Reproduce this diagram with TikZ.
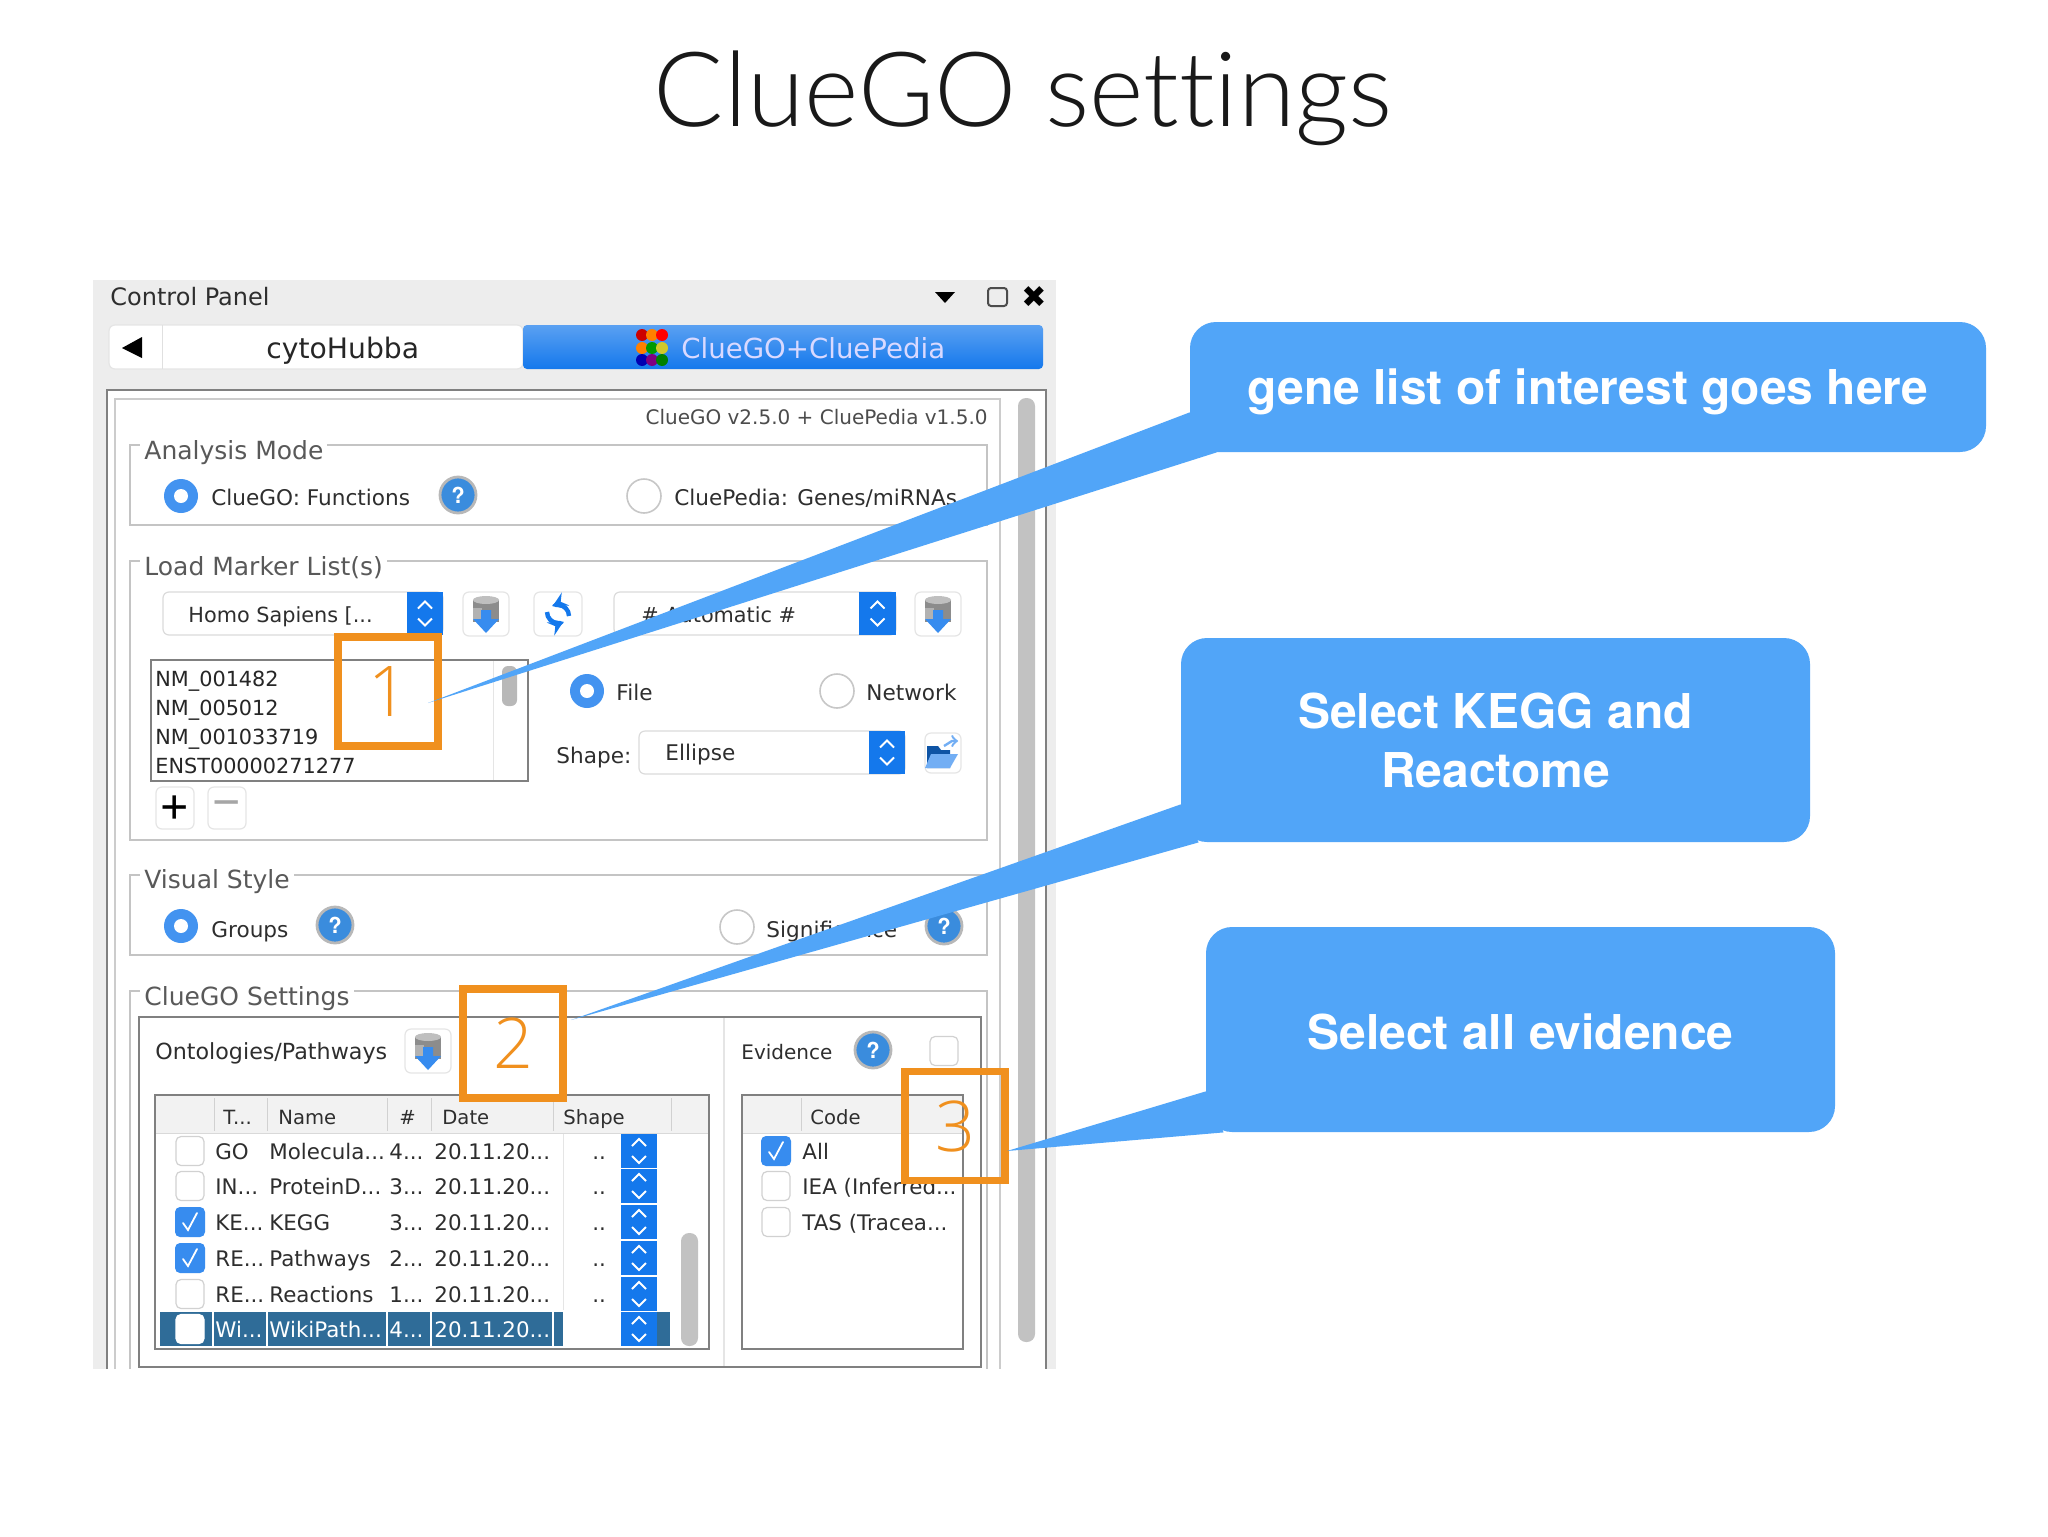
\documentclass[tikz,border=0pt]{standalone}
\usepackage{fontspec}
\setmainfont{TeX Gyre Heros}
\newfontfamily\uif{DejaVu Sans}
\newfontfamily\thinf[Ligatures={NoCommon,NoRequired,NoContextual}]{Lato Light}
\newfontfamily\digitf{Open Sans Light}
\usetikzlibrary{calc}
\definecolor{callblue}{HTML}{51A5F8}
\definecolor{orangebox}{HTML}{F0901E}
\definecolor{uitext}{HTML}{2E2E2E}
\definecolor{fieldline}{HTML}{C4C4C4}
\definecolor{spinblue}{HTML}{1478EC}
\definecolor{selrow}{HTML}{2F6C98}
\definecolor{helpblue}{HTML}{3A8CDD}
\def\dd{...}
\tikzset{
  uilab/.style={anchor=west,inner sep=0pt,text=uitext,text height=8pt,text depth=0pt,font=\uif\fontsize{10.8}{12}\selectfont},
  uilist/.style={uilab,font=\uif\fontsize{10.4}{12}\selectfont},
  uilabsm/.style={uilab,font=\uif\fontsize{10.7}{12}\selectfont},
  uihead/.style={uilab,font=\uif\fontsize{9.8}{12}\selectfont},
  legend/.style={uilab,fill=white,inner xsep=2pt,inner ysep=2pt,text height=9pt,font=\uif\fontsize{12.5}{14}\selectfont,text=black!65},
  calloutbox/.style={fill=callblue,rounded corners=13pt,text=white,align=center,inner sep=0pt,
    font=\bfseries\fontsize{24}{29.5}\selectfont},
  numbox/.style={draw=orangebox,line width=3.75pt,inner sep=0pt,text=orangebox,font=\digitf\fontsize{35}{35}\selectfont},
  field/.style={draw=fieldline,line width=1pt},
  btn/.style={draw=black!10,fill=white,rounded corners=3pt,line width=.6pt},
  check/.style={draw=black!18,fill=white,rounded corners=2.5pt,line width=.6pt,minimum width=14pt,minimum height=14.5pt,inner sep=0pt},
  checkon/.style={fill=spinblue!85,rounded corners=2.5pt,minimum width=15pt,minimum height=15pt,inner sep=0pt},
  tick/.style={draw=white,line width=.9pt,line cap=round},
  radio/.style={circle,inner sep=0pt,minimum size=17pt},
  helpic/.style={circle,draw=black!28,fill=helpblue,line width=1.4pt,inner sep=0pt,minimum size=18pt,
    text=white,font=\bfseries\fontsize{11}{11}\selectfont},
  combo/.style={btn,draw=black!14},
}
\newcommand\radioon[3]{\node[radio,fill=spinblue!80] (#1) at (#2,#3) {}; \fill[white] (#1) circle [radius=7];}
\newcommand\radiooff[3]{\node[radio,draw=black!22,line width=.8pt,fill=white] (#1) at (#2,#3) {};}
\newcommand\help[3]{\node[helpic] (#1) at (#2,#3) {?};}
\newcommand\spinner[5]{% name x1 y1 x2 y2
  \path[fill=spinblue] (#2,#3) rectangle (#4,#5);
  \coordinate (#1) at ($(#2,#3)!.5!(#4,#5)$);
  \draw[white,line width=1pt] ($(#1)+(-7,-5)$) -- ($(#1)+(0,-12)$) -- ($(#1)+(7,-5)$);
  \draw[white,line width=1pt] ($(#1)+(-7,5)$) -- ($(#1)+(0,12)$) -- ($(#1)+(7,5)$);}
\newcommand\dbicon[3]{%
  \node[btn,minimum width=23pt,minimum height=22pt,inner sep=0pt] (#1) at (#2,#3) {};
  \begin{scope}[shift={(#2,#3)}]
    \fill[black!45] (-13,-14) rectangle (13,8);
    \fill[black!25] (0,-14) ellipse [x radius=13,y radius=4];
    \fill[black!30] (-13,-6) rectangle (-4,6);
    \fill[spinblue!85] (-5,-4) -- (5,-4) -- (5,5) -- (13,5) -- (0,19) -- (-13,5) -- (-5,5) -- cycle;
  \end{scope}}
\newcommand\chk[3]{\node[check] (#1) at (#2,#3) {};}
\newcommand\chkon[3]{\node[checkon] (#1) at (#2,#3) {}; \draw[tick] ($(#1)+(-7,1)$) -- ($(#1)+(-2,8)$) -- ($(#1)+(7,-9)$);}
\begin{document}
\begin{tikzpicture}[x=0.5pt,y=-0.5pt]
\useasboundingbox[fill=white] (0,0) rectangle (2048,1536);
% title
\node[font=\thinf\fontsize{52}{52}\selectfont,text=black!90] (title) at (1023,98) {ClueGO settings};
% window
\fill[black!7] (93,280) rectangle (1056,1369);
\node[uilab,text height=8.8pt,font=\uif\fontsize{12}{14}\selectfont] (cp) at (110,297) {Control Panel};
\fill[black] (935,292) -- (955,292) -- (945,303) -- cycle;
\draw[black!70,line width=1pt,rounded corners=1.5pt] (988,288) rectangle (1007,306);
\node[font=\bfseries\fontsize{15}{15}\selectfont,inner sep=0pt] (closex) at (1034,297) {\uif✖};
% tabs
\node[btn,draw=black!10,minimum width=207pt,minimum height=22pt,inner sep=0pt] (tabwhite) at (316,347) {};
\draw[black!12] (162,325) -- (162,369);
\fill[black] (142,337) -- (142,358) -- (122,348) -- cycle;
\node[uilab,text height=10pt,font=\uif\fontsize{14.1}{16}\selectfont,text=black!85] (tab1) at (266,348) {cytoHubba};
\path[top color=spinblue!70,bottom color=spinblue,rounded corners=2pt] (523,325) rectangle (1043,369);
\foreach \cx/\cy/\cc in {642/335/red!80!black,652/335/orange,662/335/red,642/348/orange,652/348/green!60!black,662/348/yellow!80!black,642/360/blue!70!black,652/360/violet,662/360/green!50!black}
  \fill[\cc] (\cx,\cy) circle [radius=6];
\node[uilab,text height=10pt,font=\uif\fontsize{13.8}{16}\selectfont,text=white!85!blue] (tab2) at (681,348) {ClueGO+CluePedia};
% panel interior
\fill[white] (107,390) rectangle (1046,1369);
\draw[black!50,line width=1pt] (107,1369) -- (107,390) -- (1046,390) -- (1046,1369);
\draw[black!20,line width=.8pt] (115,1369) -- (115,399) -- (1000,399) -- (1000,1369);
\fill[black!24,rounded corners=4pt] (1018,398) rectangle (1035,1342);
\node[uihead,font=\uif\fontsize{10}{12}\selectfont,anchor=east,text=black!70] (ver) at (988,416) {ClueGO v2.5.0 + CluePedia v1.5.0};
% Analysis mode
\draw[field] (130,445) rectangle (987,525);
\node[legend] (am) at (140,450) {Analysis Mode};
\radioon{r1}{181}{496}
\node[uilab] (r1t) at (211,497) {ClueGO: Functions};
\help{h1}{458}{495}
\radiooff{r2}{644}{496}
\node[uilab] (r2t) at (674,497) {CluePedia: Genes/miRNAs};
% Load marker
\draw[field] (130,561) rectangle (987,840);
\node[legend] (lm) at (140,566) {Load Marker List(s)};
\node[combo,minimum width=140pt,minimum height=21.5pt,inner sep=0pt] (cb1) at (303,613.5) {};
\spinner{sp1}{407}{592}{443}{635}
\node[uilist] (cb1t) at (188,614) {Homo Sapiens [...};
\dbicon{db1}{486}{614}
\node[btn,minimum width=24pt,minimum height=22pt,inner sep=0pt] (rf) at (558,614) {};
\draw[spinblue,line width=2.2pt,->,>=stealth] (547,612) arc[start angle=180,end angle=60,radius=11];
\draw[spinblue,line width=2.2pt,->,>=stealth] (569,616) arc[start angle=0,end angle=-120,radius=11];
\node[combo,minimum width=141pt,minimum height=21.5pt,inner sep=0pt] (cb2) at (755,613.5) {};
\spinner{sp2}{859}{592}{896}{635}
\node[uilist] (cb2t) at (641,614) {\# Automatic \#};
\dbicon{db2}{938}{614}
% gene list
\draw[black!50,line width=.9pt,fill=white] (151,660) rectangle (528,781);
\draw[black!10] (493,661) -- (493,780);
\fill[black!28,rounded corners=3pt] (502,666) rectangle (517,706);
\foreach \n/\yy/\lbl in {a/678/NM\_001482,b/707/NM\_005012,c/736/NM\_001033719,d/765/ENST00000271277}
  \node[uilist,text=black!85] (gl\n) at (155,\yy) {\lbl};
\radioon{r3}{587}{691}
\node[uilab] (r3t) at (616,692) {File};
\radiooff{r4}{837}{691}
\node[uilab] (r4t) at (866,692) {Network};
\node[uilab] (shp) at (556,755) {Shape:};
\node[combo,minimum width=133pt,minimum height=21.5pt,inner sep=0pt] (cb3) at (772,752.5) {};
\spinner{sp3}{869}{731}{905}{774}
\node[uilab] (cb3t) at (665,752) {Ellipse};
\node[btn,minimum width=18pt,minimum height=20pt,inner sep=0pt] (fold) at (943,753) {};
\fill[spinblue!70!black] (927,746) -- (938,746) -- (941,750) -- (950,750) -- (950,768) -- (927,768) -- cycle;
\fill[spinblue!60] (931,754) -- (958,754) -- (950,768) -- (925,768) -- cycle;
\draw[spinblue!60,line width=1.2pt,->] (944,746) -- (952,741) -- (958,741);
\node[btn,minimum width=19pt,minimum height=21pt,inner sep=0pt,font=\fontsize{26}{26}\selectfont] (plus) at (175,808) {+};
\node[btn,minimum width=19pt,minimum height=21pt,inner sep=0pt,text=black!35,font=\fontsize{26}{26}\selectfont] (minus) at (227,808) {−};
% Visual style
\draw[field] (130,875) rectangle (987,955);
\node[legend] (vs) at (140,879) {Visual Style};
\radioon{r5}{181}{926}
\node[uilab] (r5t) at (211,929) {Groups};
\help{h2}{335}{925}
\radiooff{r6}{737}{927}
\node[uilab] (r6t) at (766,929) {Significance};
\help{h3}{944}{926}
% ClueGO settings
\draw[field] (130,1369) -- (130,991) -- (987,991) -- (987,1369);
\node[legend] (cs) at (140,996) {ClueGO Settings};
\draw[black!50,line width=1pt] (139,1367) rectangle (981,1017);
\draw[black!10,line width=.8pt] (724,1018) -- (724,1366);
\node[uilab,font=\uif\fontsize{11.1}{13}\selectfont] (op) at (155,1051) {Ontologies/Pathways};
\dbicon{db3}{428}{1051}
\node[uihead,font=\uif\fontsize{10}{12}\selectfont] (ev) at (741,1051) {Evidence};
\help{h4}{873}{1050}
\chk{evc}{944}{1051}
% ontology table
\draw[black!50,line width=.9pt,fill=white] (155,1095) rectangle (709,1349);
\fill[black!5] (156,1096) rectangle (708,1133);
\draw[black!15] (156,1133) -- (708,1133);
\foreach \sx in {214,267,387,431,553,671} \draw[black!18] (\sx,1098) -- (\sx,1131);
\foreach \n/\sx/\lbl in {a/223/T\dd,b/278/Name,c/399/\#,d/442/Date,e/563/Shape}
  \node[uihead] (th\n) at (\sx,1116) {\lbl};
\draw[black!10] (563,1134) -- (563,1310);
% rows
\foreach \n/\yy/\ta/\tb/\tc/\on in {a/1151/GO/Molecula\dd/4\dd/0,b/1186/IN\dd/ProteinD\dd/3\dd/0,c/1222/KE\dd/KEGG/3\dd/1,d/1258/RE\dd/Pathways/2\dd/1,e/1294/RE\dd/Reactions/1\dd/0}{
  \ifnum\on=1 \chkon{ck\n}{190}{\yy}\else \chk{ck\n}{190}{\yy}\fi
  \node[uilabsm] (ra\n) at (215,\yy) {\ta};
  \node[uilabsm] (rb\n) at (269,\yy) {\tb};
  \node[uilabsm] (rc\n) at (389,\yy) {\tc};
  \node[uilabsm] (rd\n) at (434,\yy) {20.11.20...};
  \node[uilabsm] (re\n) at (592,\yy) {..};
  \spinner{rs\n}{621}{\yy-17}{657}{\yy+17}
}
% selected row
\fill[selrow] (160,1312) rectangle (563,1346);
\fill[selrow] (657,1312) rectangle (670,1346);
\foreach \sx in {213,267,387,431,553} \draw[white,line width=.7pt] (\sx,1312) -- (\sx,1346);
\node[check,draw=white] (ckf) at (190,1329) {};
\node[uilabsm,text=white] (raf) at (215,1329) {Wi...};
\node[uilabsm,text=white] (rbf) at (269,1329) {WikiPath...};
\node[uilabsm,text=white] (rcf) at (389,1329) {4...};
\node[uilabsm,text=white] (rdf) at (434,1329) {20.11.20...};
\spinner{rsf}{621}{1312}{657}{1346}
\fill[black!24,rounded corners=4pt] (681,1233) rectangle (698,1346);
% evidence table
\draw[black!50,line width=.9pt,fill=white] (742,1095) rectangle (963,1349);
\fill[black!5] (743,1096) rectangle (962,1133);
\draw[black!15] (743,1133) -- (962,1133);
\draw[black!18] (801,1098) -- (801,1131);
\node[uihead] (code) at (810,1116) {Code};
\chkon{ea}{776}{1151}
\node[uilabsm] (eat) at (802,1151) {All};
\chk{eb}{776}{1186}
\node[uilabsm] (ebt) at (802,1186) {IEA (Inferred...};
\chk{ec}{776}{1222}
\node[uilabsm] (ect) at (802,1222) {TAS (Tracea...};
% numbered boxes
\node[numbox,minimum width=50pt,minimum height=54.5pt] (b1) at (388,691.5) {1};
\node[numbox,minimum width=50pt,minimum height=54.5pt] (b2) at (513,1043.5) {2};
\node[numbox,minimum width=50pt,minimum height=54.5pt] (b3) at (955,1126) {3};
% callouts
\node[calloutbox,text depth=0pt,minimum width=398pt,minimum height=65pt] (c1) at (1588,387) {gene list of interest goes here};
\node[calloutbox,minimum width=314.5pt,minimum height=102pt] (c2) at (1495.5,740) {Select KEGG and\\Reactome};
\node[calloutbox,text height=20.5pt,minimum width=314.5pt,minimum height=102.5pt] (c3) at (1520.5,1029.5) {Select all evidence};
\coordinate (t1) at (428,703);
\coordinate (t2) at (571,1020);
\coordinate (t3) at (1007,1151);
\fill[callblue] ($(c1.south west)+(0,-40)$) -- (t1) -- ($(c1.south west)+(27,0)$) -- cycle;
\fill[callblue] ($(c2.south west)+(0,-38)$) -- (t2) -- ($(c2.south west)+(18,0)$) -- cycle;
\fill[callblue] ($(c3.south west)+(0,-41)$) -- (t3) -- ($(c3.south west)+(18,0)$) -- cycle;
\end{tikzpicture}
\end{document}
